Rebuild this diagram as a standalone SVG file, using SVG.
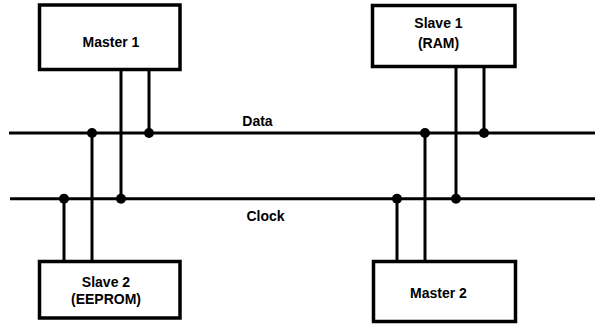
<svg xmlns="http://www.w3.org/2000/svg" width="595" height="332" viewBox="0 0 595 332">
<style>
.box{fill:#fff;stroke:#000;stroke-width:3.5}
.wire{stroke:#000;stroke-width:3;fill:none}
.dot{fill:#000}
text{font-family:"Liberation Sans",Arial,sans-serif;font-weight:bold;font-size:14px;text-anchor:middle;fill:#000}
</style>
<rect width="595" height="332" fill="#fff"/>
<g id="connectors">
<line class="wire" x1="9" y1="133" x2="595" y2="133"/>
<line class="wire" x1="10" y1="198.7" x2="595" y2="198.7"/>
<line class="wire" x1="121" y1="70" x2="121" y2="198.7"/>
<line class="wire" x1="149" y1="70" x2="149" y2="133"/>
<line class="wire" x1="92" y1="133" x2="92" y2="261"/>
<line class="wire" x1="64" y1="198.7" x2="64" y2="261"/>
<line class="wire" x1="456" y1="67" x2="456" y2="198.7"/>
<line class="wire" x1="484" y1="67" x2="484" y2="133"/>
<line class="wire" x1="425" y1="133" x2="425" y2="261"/>
<line class="wire" x1="397" y1="198.7" x2="397" y2="261"/>
<circle class="dot" cx="92" cy="133" r="5"/>
<circle class="dot" cx="149" cy="133" r="5"/>
<circle class="dot" cx="425" cy="133" r="5"/>
<circle class="dot" cx="484" cy="133" r="5"/>
<circle class="dot" cx="64" cy="198.7" r="5"/>
<circle class="dot" cx="121" cy="198.7" r="5"/>
<circle class="dot" cx="397" cy="198.7" r="5"/>
<circle class="dot" cx="456" cy="198.7" r="5"/>
<text x="257.5" y="126">Data</text>
<text x="265.5" y="221">Clock</text>
</g>
<g id="master1">
<rect class="box" x="39.5" y="5" width="140.5" height="64.5"/>
<text x="111" y="46.5">Master 1</text>
</g>
<g id="slave1">
<rect class="box" x="372.5" y="5.5" width="142.5" height="61"/>
<text x="438.5" y="27.5">Slave 1</text>
<text x="438.5" y="47.5">(RAM)</text>
</g>
<g id="slave2">
<rect class="box" x="39.5" y="261.5" width="140.5" height="56.5"/>
<text x="106" y="287">Slave 2</text>
<text x="106" y="304">(EEPROM)</text>
</g>
<g id="master2">
<rect class="box" x="373.5" y="261.5" width="142" height="60"/>
<text x="438.5" y="297.5">Master 2</text>
</g>
</svg>
